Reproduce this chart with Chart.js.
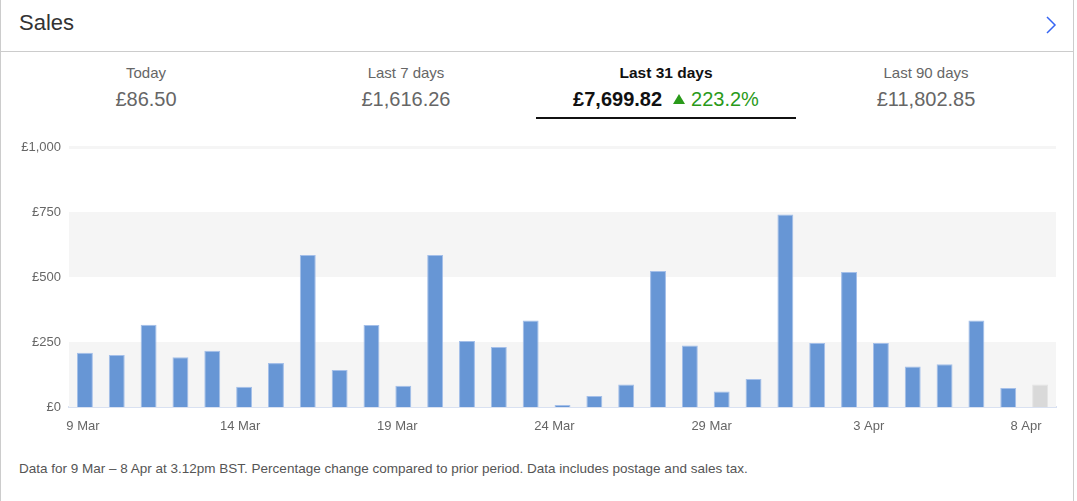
<!DOCTYPE html>
<html>
<head>
<meta charset="utf-8">
<title>Sales</title>
<script src="https://cdn.jsdelivr.net/npm/chart.js@4.4.1/dist/chart.umd.min.js"></script>
<style>
    body { margin: 0; background: #fff; font-family: "Liberation Sans", Arial, sans-serif; }
    .card { position: absolute; left: 0; top: 0; width: 1072px; height: 501px; border-left: 1px solid #ccc; border-right: 1px solid #ccc; }
    .title { position: absolute; left: 18px; top: 10px; font-size: 22px; color: #333; }
    .chev { position: absolute; left: 1040px; top: 14px; }
    .divider { position: absolute; left: 0; top: 51px; width: 1072px; height: 1px; background: #ccc; }
    .tab { position: absolute; top: 62px; width: 260px; text-align: center; color: #666; }
    .tab .lbl { font-size: 15px; line-height: 22px; }
    .tab .val { font-size: 20px; line-height: 30px; margin-top: 0; }
    .tab.active { color: #111; border-bottom: 2px solid #111; height: 55px; }
    .tab.active .lbl { font-weight: bold; font-size: 15.5px; }
    .tab.active .val { font-weight: bold; }
    .up { color: #2a9a1a; font-weight: normal; margin-left: 11px; }
    .tri { display: inline-block; width: 0; height: 0; border-left: 6.5px solid transparent; border-right: 6.5px solid transparent; border-bottom: 10px solid #2a9a1a; margin-right: 6px; vertical-align: 2px; }
    .chart-box { position: absolute; left: 0; top: 130px; width: 1077px; height: 310px; }
    .note { position: absolute; left: 18px; top: 461px; font-size: 13.5px; color: #555; }
</style>
</head>
<body>
<div class="card">
    <div class="title">Sales</div>
    <svg class="chev" width="20" height="22"><polyline points="6,3 14,11 6,19" fill="none" stroke="#3665f3" stroke-width="1.5"/></svg>
    <div class="divider"></div>
    <div id="tabs"></div>
    <div class="note">Data for 9 Mar – 8 Apr at 3.12pm BST. Percentage change compared to prior period. Data includes postage and sales tax.</div>
</div>
<div class="chart-box"><canvas id="salesChart"></canvas></div>

<script>
// Summary tabs
const tabLabels = ['Today', 'Last 7 days', 'Last 31 days', 'Last 90 days'];
const tabValues = ['£86.50', '£1,616.26', '£7,699.82', '£11,802.85'];
const activeTab = 2;
const activeChange = '223.2%';

// Daily sales, 9 Mar - 8 Apr (last day is today, partial)
const days = ['9 Mar', '10 Mar', '11 Mar', '12 Mar', '13 Mar', '14 Mar', '15 Mar', '16 Mar', '17 Mar', '18 Mar',
    '19 Mar', '20 Mar', '21 Mar', '22 Mar', '23 Mar', '24 Mar', '25 Mar', '26 Mar', '27 Mar', '28 Mar',
    '29 Mar', '30 Mar', '31 Mar', '1 Apr', '2 Apr', '3 Apr', '4 Apr', '5 Apr', '6 Apr', '7 Apr', '8 Apr'];
const sales = [209, 200, 316, 191, 216, 78, 169, 585, 142, 315,
    82, 585, 254, 231, 333, 8, 42, 87, 523, 237,
    60, 108, 740, 246, 519, 246, 156, 164, 333, 73, 86.5];

// Axis ticks
const yTicks = [0, 250, 500, 750, 1000];
const xTickDays = [0, 5, 10, 15, 20, 25, 30];
const xTickLabels = ['9 Mar', '14 Mar', '19 Mar', '24 Mar', '29 Mar', '3 Apr', '8 Apr'];

const colors = {
    bar: '#6796d5',
    barEdge: '#a4bfe9',
    today: '#d9d9d9',
    todayEdge: '#e4e4e4',
    band: '#f5f5f5',
    axis: '#d9e1f1',
    text: '#666'
};

// ------------------------------------------------------------
// Tabs
// ------------------------------------------------------------
document.getElementById('tabs').innerHTML = tabLabels.map((label, i) => `
    <div class="tab${i === activeTab ? ' active' : ''}" style="left:${15 + i * 260}px">
        <div class="lbl">${label}</div>
        <div class="val">${tabValues[i]}${i === activeTab ? `<span class="up"><span class="tri"></span>${activeChange}</span>` : ''}</div>
    </div>
`).join('');

// ------------------------------------------------------------
// Chart
// ------------------------------------------------------------
Chart.defaults.font.family = '"Liberation Sans", Arial, sans-serif';
Chart.defaults.font.size = 13;
Chart.defaults.color = colors.text;

// Shaded bands behind bars: 0-250, 500-750 and a thin strip at the top
const bandPlugin = {
    id: 'bands',
    beforeDatasetsDraw(chart) {
        const { ctx, chartArea, scales } = chart;
        const y = scales.y;
        ctx.save();
        ctx.fillStyle = colors.band;
        [[0, 250], [500, 750]].forEach(([lo, hi]) => {
            const top = y.getPixelForValue(hi);
            ctx.fillRect(chartArea.left, top, chartArea.right - chartArea.left, y.getPixelForValue(lo) - top);
        });
        const t = y.getPixelForValue(1000);
        ctx.fillRect(chartArea.left, t - 1, chartArea.right - chartArea.left, 3);
        ctx.restore();
    }
};

new Chart(document.getElementById('salesChart'), {
    type: 'bar',
    data: {
        labels: days,
        datasets: [{
            data: sales,
            backgroundColor: sales.map((v, i) => i === sales.length - 1 ? colors.today : colors.bar),
            borderColor: sales.map((v, i) => i === sales.length - 1 ? colors.todayEdge : colors.barEdge),
            borderWidth: { top: 1, left: 1, right: 1, bottom: 0 },
            borderSkipped: 'bottom',
            categoryPercentage: 1,
            barPercentage: 0.5
        }]
    },
    options: {
        responsive: true,
        maintainAspectRatio: false,
        animation: false,
        layout: { padding: { top: 17, right: 21, left: 0, bottom: 0 } },
        plugins: { legend: { display: false }, tooltip: { enabled: false } },
        scales: {
            x: {
                type: 'category',
                grid: { display: false },
                border: { display: false },
                ticks: { display: false },
                afterFit: s => { s.height = 0; }
            },
            // date labels sit on their own day scale, slightly narrower than the bar slots
            x2: {
                type: 'linear',
                position: 'bottom',
                offset: false,
                bounds: 'data',
                min: -0.445,
                max: 30.957,
                grid: { display: false, drawTicks: false, offset: false },
                border: { display: true, color: colors.axis, width: 2 },
                afterBuildTicks: s => { s.ticks = xTickDays.map(v => ({ value: v })); },
                ticks: {
                    autoSkip: false,
                    maxRotation: 0,
                    padding: 12,
                    callback: (v, i) => xTickLabels[i]
                },
                afterFit: s => { s.height = 33; }
            },
            y: {
                min: 0,
                max: 1000,
                grid: { display: false, drawTicks: false },
                border: { display: false },
                afterBuildTicks: s => { s.ticks = yTicks.map(v => ({ value: v })); },
                ticks: {
                    padding: 8,
                    callback: v => '£' + v.toLocaleString('en-GB')
                },
                afterFit: s => { s.width = 69; }
            }
        }
    },
    plugins: [bandPlugin]
});
</script>
</body>
</html>
